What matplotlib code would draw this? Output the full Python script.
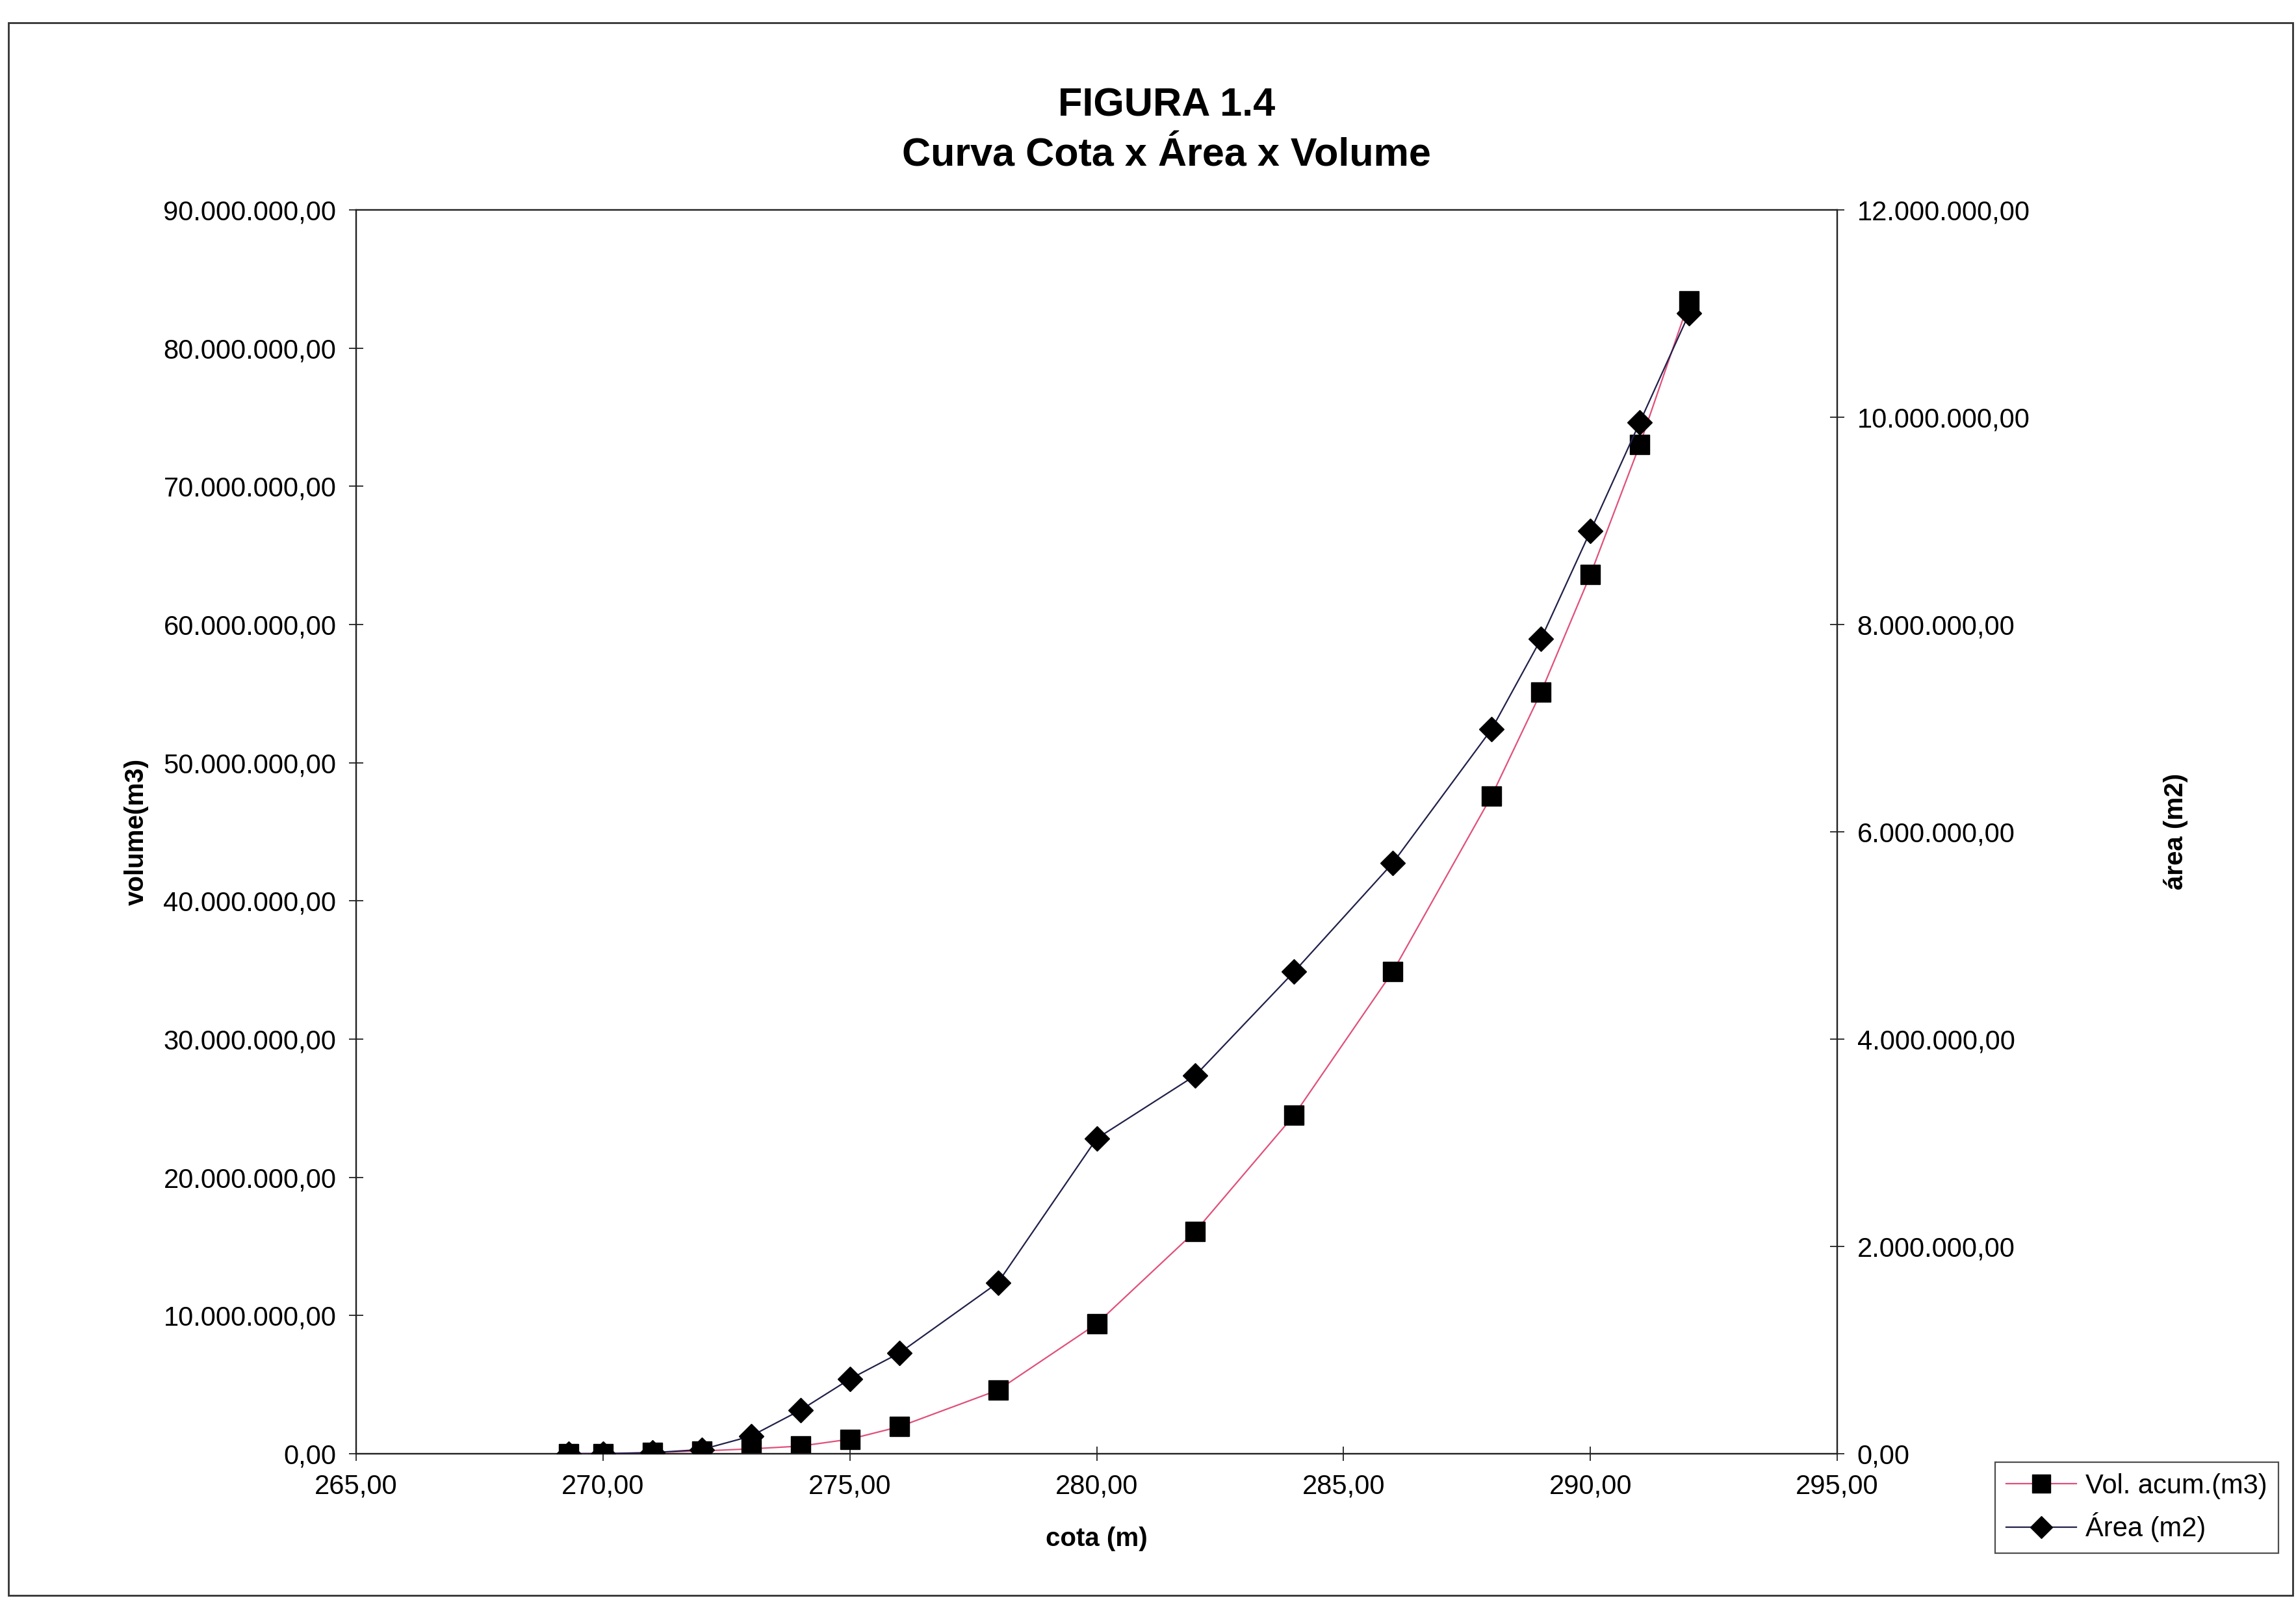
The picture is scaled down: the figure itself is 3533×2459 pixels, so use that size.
import numpy as np
import matplotlib
matplotlib.use("Agg")
import matplotlib.pyplot as plt
from matplotlib.ticker import FuncFormatter
from matplotlib.patches import Rectangle

plt.rcParams['font.family'] = ['Liberation Sans', 'DejaVu Sans']

# data
cota = [269.3, 270, 271, 272, 273, 274, 275, 276, 278, 280, 282, 284, 286, 288, 289, 290, 291, 292]
vol_acum = [0, 20000, 80000, 200000, 350000, 550000, 1050000, 1950000, 4600000, 9400000,
            16100000, 24500000, 34900000, 47600000, 55100000, 63600000, 73000000, 83400000]
area_m2 = [0, 0, 10000, 40000, 170000, 420000, 720000, 970000, 1650000, 3040000,
           3650000, 4650000, 5700000, 6990000, 7860000, 8900000, 9950000, 11000000]

x_ticks = [265, 270, 275, 280, 285, 290, 295]
vol_ticks = np.arange(0, 90000001, 10000000)
area_ticks = np.arange(0, 12000001, 2000000)


def br_fmt(v, pos=None):
    s = f"{v:,.2f}"
    return s.replace(",", "X").replace(".", ",").replace("X", ".")


fs_tick = 30
fig = plt.figure(figsize=(35.33, 24.59), dpi=100)
ax = fig.add_axes([0.1551, 0.0903, 0.6451, 0.7784])
ax2 = ax.twinx()

l1, = ax.plot(cota, vol_acum, color='#e0507a', lw=1.6, marker='s', ms=22,
              mfc='black', mec='black', label='Vol. acum.(m3)', zorder=3)
l2, = ax2.plot(cota, area_m2, color='#20204a', lw=1.6, marker='D', ms=19,
               mfc='black', mec='black', label='Área (m2)', zorder=3)

ax.set_xlim(265, 295)
ax.set_ylim(0, 90000000)
ax2.set_ylim(0, 12000000)
ax.set_xticks(x_ticks)
ax.set_yticks(vol_ticks)
ax2.set_yticks(area_ticks)
ax.xaxis.set_major_formatter(FuncFormatter(br_fmt))
ax.yaxis.set_major_formatter(FuncFormatter(br_fmt))
ax2.yaxis.set_major_formatter(FuncFormatter(br_fmt))

for a in (ax, ax2):
    for sp in a.spines.values():
        sp.set_linewidth(1.6)
        sp.set_color('#222222')
    a.tick_params(direction='inout', length=16, width=1.4, labelsize=fs_tick, pad=14, color='#333333')

ax.set_xlabel('cota (m)', fontsize=29, weight='bold', labelpad=30)
ax.set_ylabel('volume(m3)', fontsize=29, weight='bold')
ax.yaxis.set_label_coords(-0.140, 0.5)
ax2.set_ylabel('área (m2)', fontsize=29, weight='bold')
ax2.yaxis.set_label_coords(1.22, 0.5)

fig.text(0.508, 1 - 163 / 2459, 'FIGURA 1.4', ha='center', va='center', fontsize=44, weight='bold')
fig.text(0.508, 1 - 240 / 2459, 'Curva Cota x Área x Volume', ha='center', va='center',
         fontsize=44, weight='bold')

leg = fig.legend(handles=[l1, l2], loc='upper left', bbox_to_anchor=(0.869, 0.085),
                 fontsize=fs_tick, frameon=True, fancybox=False, borderpad=0.4,
                 labelspacing=0.5, handlelength=2.6, handletextpad=0.34, borderaxespad=0,
                 markerscale=0.9)
leg.get_frame().set_edgecolor('#222222')
leg.get_frame().set_linewidth(1.6)

# outer border of the chart area
fig.patches.append(Rectangle((0.0037, 0.0016), 0.995, 0.984, transform=fig.transFigure,
                             fill=False, edgecolor='#333333', lw=2))

fig.savefig('out.png', dpi=100)
